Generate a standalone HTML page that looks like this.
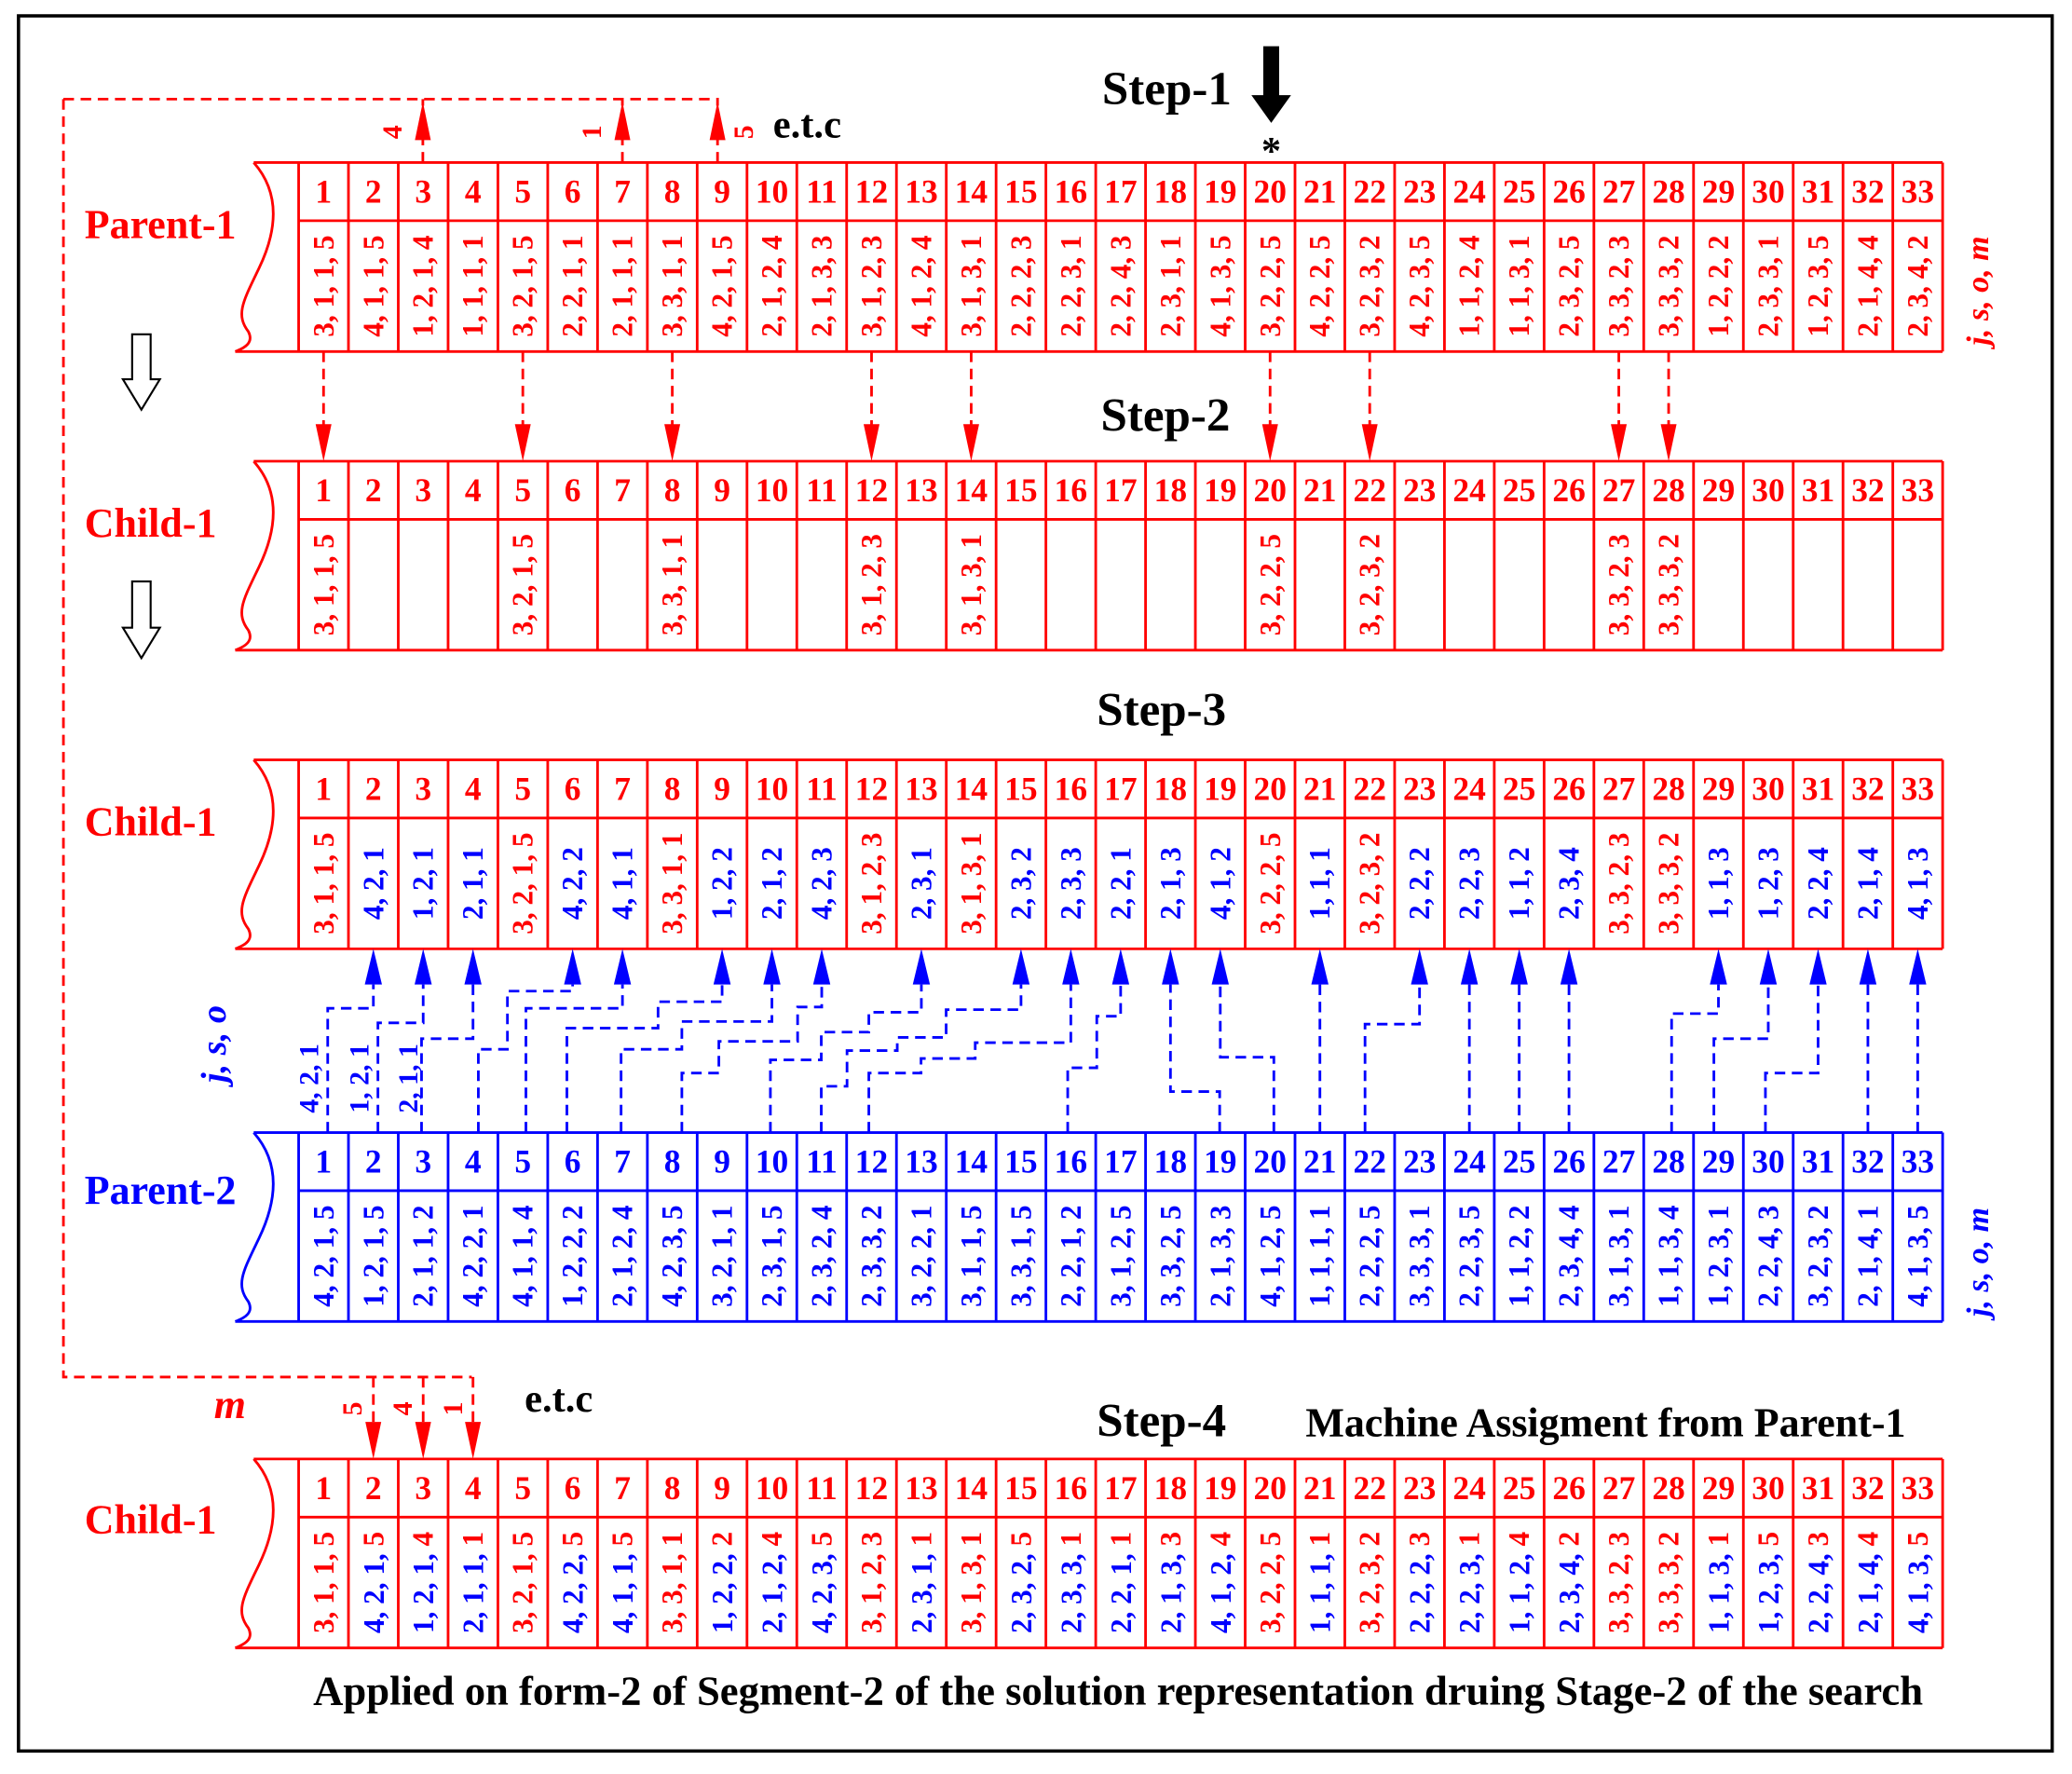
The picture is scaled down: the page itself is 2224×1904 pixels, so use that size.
<!DOCTYPE html>
<html><head><meta charset="utf-8"><style>
html,body{margin:0;padding:0;background:#fff}
svg{display:block}
text{font-family:"Liberation Serif",serif;font-weight:bold}
.n{font-size:25px;dominant-baseline:central;text-anchor:middle}
.d{font-size:22px;dominant-baseline:central;text-anchor:middle}
.R{fill:#f00}.B{fill:#00f}
.lab{font-size:31px}
.st{font-size:36px;fill:#000}
.dr{stroke:#f00;stroke-width:2;fill:none;stroke-dasharray:8,5}
.db{stroke:#00f;stroke-width:2;fill:none;stroke-dasharray:8,5}
</style></head><body>
<svg width="2224" height="1904" viewBox="0 0 1568 1342.4" preserveAspectRatio="none" xmlns="http://www.w3.org/2000/svg">
<defs>
<path id="grid" fill="none" stroke-width="2" d="M192,0H1470.1M226,44H1470.1M178,143H1470.1M192,0C214,25 208,55 196,80C184,105 178,115 188,128C192,136 186,140 178,143M226,0V143M263.7,0V143M301.4,0V143M339.1,0V143M376.8,0V143M414.5,0V143M452.2,0V143M489.9,0V143M527.6,0V143M565.3,0V143M603,0V143M640.7,0V143M678.4,0V143M716.1,0V143M753.8,0V143M791.5,0V143M829.2,0V143M866.9,0V143M904.6,0V143M942.3,0V143M980,0V143M1017.7,0V143M1055.4,0V143M1093.1,0V143M1130.8,0V143M1168.5,0V143M1206.2,0V143M1243.9,0V143M1281.6,0V143M1319.3,0V143M1357,0V143M1394.7,0V143M1432.4,0V143M1470.1,0V143"/>
</defs>
<rect x="14" y="12" width="1539" height="1313" fill="none" stroke="#000" stroke-width="2.5"/>

<!-- Titles -->
<text class="st" x="834" y="79">Step-1</text>
<path d="M956,35H968V72H977L962,93L947,72H956Z" fill="#000"/>
<text x="962" y="124" style="font-size:30px;text-anchor:middle">*</text>
<text class="st" x="833" y="326">Step-2</text>
<text class="st" x="830" y="549">Step-3</text>
<text class="st" x="830" y="1087">Step-4</text>
<text x="988" y="1087" style="font-size:31px">Machine Assigment from Parent-1</text>
<text x="237" y="1290" style="font-size:31.5px">Applied on form-2 of Segment-2 of the solution representation druing Stage-2 of the search</text>
<text x="585" y="104" style="font-size:30px">e.t.c</text>
<text x="397" y="1068" style="font-size:30px">e.t.c</text>

<!-- left labels -->
<text class="lab R" x="64" y="180">Parent-1</text>
<text class="lab R" x="64" y="406">Child-1</text>
<text class="lab R" x="64" y="632">Child-1</text>
<text class="lab B" x="64" y="911">Parent-2</text>
<text class="lab R" x="64" y="1160">Child-1</text>
<text x="174" y="1073" class="R" style="font-size:31px;font-style:italic;text-anchor:middle">m</text>

<!-- right labels -->
<text class="R" transform="translate(1497,220) rotate(-90)" style="font-size:24px;font-style:italic;text-anchor:middle;dominant-baseline:central">j, s, o, m</text>
<text class="B" transform="translate(1497,955) rotate(-90)" style="font-size:24px;font-style:italic;text-anchor:middle;dominant-baseline:central">j, s, o, m</text>
<text class="B" transform="translate(162,790) rotate(-90)" style="font-size:27px;font-style:italic;text-anchor:middle;dominant-baseline:central">j, s, o</text>

<!-- hollow arrows -->
<path d="M100,253H114V287H121L107,310L93,287H100Z" fill="#fff" stroke="#000" stroke-width="1.5"/>
<path d="M100,440H114V475H121L107,498L93,475H100Z" fill="#fff" stroke="#000" stroke-width="1.5"/>

<!-- tables -->
<use href="#grid" transform="translate(0,123)" stroke="#f00"/>
<use href="#grid" transform="translate(0,349)" stroke="#f00"/>
<use href="#grid" transform="translate(0,575)" stroke="#f00"/>
<use href="#grid" transform="translate(0,857)" stroke="#00f"/>
<use href="#grid" transform="translate(0,1104)" stroke="#f00"/>

<!-- number rows -->
<text class="n R" y="145"><tspan x="244.85">1</tspan><tspan x="282.55">2</tspan><tspan x="320.25">3</tspan><tspan x="357.95">4</tspan><tspan x="395.65">5</tspan><tspan x="433.35">6</tspan><tspan x="471.05">7</tspan><tspan x="508.75">8</tspan><tspan x="546.45">9</tspan><tspan x="584.15">10</tspan><tspan x="621.85">11</tspan><tspan x="659.55">12</tspan><tspan x="697.25">13</tspan><tspan x="734.95">14</tspan><tspan x="772.65">15</tspan><tspan x="810.35">16</tspan><tspan x="848.05">17</tspan><tspan x="885.75">18</tspan><tspan x="923.45">19</tspan><tspan x="961.15">20</tspan><tspan x="998.85">21</tspan><tspan x="1036.55">22</tspan><tspan x="1074.25">23</tspan><tspan x="1111.95">24</tspan><tspan x="1149.65">25</tspan><tspan x="1187.35">26</tspan><tspan x="1225.05">27</tspan><tspan x="1262.75">28</tspan><tspan x="1300.45">29</tspan><tspan x="1338.15">30</tspan><tspan x="1375.85">31</tspan><tspan x="1413.55">32</tspan><tspan x="1451.25">33</tspan></text>
<text class="n R" y="371"><tspan x="244.85">1</tspan><tspan x="282.55">2</tspan><tspan x="320.25">3</tspan><tspan x="357.95">4</tspan><tspan x="395.65">5</tspan><tspan x="433.35">6</tspan><tspan x="471.05">7</tspan><tspan x="508.75">8</tspan><tspan x="546.45">9</tspan><tspan x="584.15">10</tspan><tspan x="621.85">11</tspan><tspan x="659.55">12</tspan><tspan x="697.25">13</tspan><tspan x="734.95">14</tspan><tspan x="772.65">15</tspan><tspan x="810.35">16</tspan><tspan x="848.05">17</tspan><tspan x="885.75">18</tspan><tspan x="923.45">19</tspan><tspan x="961.15">20</tspan><tspan x="998.85">21</tspan><tspan x="1036.55">22</tspan><tspan x="1074.25">23</tspan><tspan x="1111.95">24</tspan><tspan x="1149.65">25</tspan><tspan x="1187.35">26</tspan><tspan x="1225.05">27</tspan><tspan x="1262.75">28</tspan><tspan x="1300.45">29</tspan><tspan x="1338.15">30</tspan><tspan x="1375.85">31</tspan><tspan x="1413.55">32</tspan><tspan x="1451.25">33</tspan></text>
<text class="n R" y="597"><tspan x="244.85">1</tspan><tspan x="282.55">2</tspan><tspan x="320.25">3</tspan><tspan x="357.95">4</tspan><tspan x="395.65">5</tspan><tspan x="433.35">6</tspan><tspan x="471.05">7</tspan><tspan x="508.75">8</tspan><tspan x="546.45">9</tspan><tspan x="584.15">10</tspan><tspan x="621.85">11</tspan><tspan x="659.55">12</tspan><tspan x="697.25">13</tspan><tspan x="734.95">14</tspan><tspan x="772.65">15</tspan><tspan x="810.35">16</tspan><tspan x="848.05">17</tspan><tspan x="885.75">18</tspan><tspan x="923.45">19</tspan><tspan x="961.15">20</tspan><tspan x="998.85">21</tspan><tspan x="1036.55">22</tspan><tspan x="1074.25">23</tspan><tspan x="1111.95">24</tspan><tspan x="1149.65">25</tspan><tspan x="1187.35">26</tspan><tspan x="1225.05">27</tspan><tspan x="1262.75">28</tspan><tspan x="1300.45">29</tspan><tspan x="1338.15">30</tspan><tspan x="1375.85">31</tspan><tspan x="1413.55">32</tspan><tspan x="1451.25">33</tspan></text>
<text class="n B" y="879"><tspan x="244.85">1</tspan><tspan x="282.55">2</tspan><tspan x="320.25">3</tspan><tspan x="357.95">4</tspan><tspan x="395.65">5</tspan><tspan x="433.35">6</tspan><tspan x="471.05">7</tspan><tspan x="508.75">8</tspan><tspan x="546.45">9</tspan><tspan x="584.15">10</tspan><tspan x="621.85">11</tspan><tspan x="659.55">12</tspan><tspan x="697.25">13</tspan><tspan x="734.95">14</tspan><tspan x="772.65">15</tspan><tspan x="810.35">16</tspan><tspan x="848.05">17</tspan><tspan x="885.75">18</tspan><tspan x="923.45">19</tspan><tspan x="961.15">20</tspan><tspan x="998.85">21</tspan><tspan x="1036.55">22</tspan><tspan x="1074.25">23</tspan><tspan x="1111.95">24</tspan><tspan x="1149.65">25</tspan><tspan x="1187.35">26</tspan><tspan x="1225.05">27</tspan><tspan x="1262.75">28</tspan><tspan x="1300.45">29</tspan><tspan x="1338.15">30</tspan><tspan x="1375.85">31</tspan><tspan x="1413.55">32</tspan><tspan x="1451.25">33</tspan></text>
<text class="n R" y="1126"><tspan x="244.85">1</tspan><tspan x="282.55">2</tspan><tspan x="320.25">3</tspan><tspan x="357.95">4</tspan><tspan x="395.65">5</tspan><tspan x="433.35">6</tspan><tspan x="471.05">7</tspan><tspan x="508.75">8</tspan><tspan x="546.45">9</tspan><tspan x="584.15">10</tspan><tspan x="621.85">11</tspan><tspan x="659.55">12</tspan><tspan x="697.25">13</tspan><tspan x="734.95">14</tspan><tspan x="772.65">15</tspan><tspan x="810.35">16</tspan><tspan x="848.05">17</tspan><tspan x="885.75">18</tspan><tspan x="923.45">19</tspan><tspan x="961.15">20</tspan><tspan x="998.85">21</tspan><tspan x="1036.55">22</tspan><tspan x="1074.25">23</tspan><tspan x="1111.95">24</tspan><tspan x="1149.65">25</tspan><tspan x="1187.35">26</tspan><tspan x="1225.05">27</tspan><tspan x="1262.75">28</tspan><tspan x="1300.45">29</tspan><tspan x="1338.15">30</tspan><tspan x="1375.85">31</tspan><tspan x="1413.55">32</tspan><tspan x="1451.25">33</tspan></text>

<!-- Parent-1 data -->
<g class="d R">
<text transform="translate(244.85,216.5) rotate(-90)">3, 1, 1, 5</text>
<text transform="translate(282.55,216.5) rotate(-90)">4, 1, 1, 5</text>
<text transform="translate(320.25,216.5) rotate(-90)">1, 2, 1, 4</text>
<text transform="translate(357.95,216.5) rotate(-90)">1, 1, 1, 1</text>
<text transform="translate(395.65,216.5) rotate(-90)">3, 2, 1, 5</text>
<text transform="translate(433.35,216.5) rotate(-90)">2, 2, 1, 1</text>
<text transform="translate(471.05,216.5) rotate(-90)">2, 1, 1, 1</text>
<text transform="translate(508.75,216.5) rotate(-90)">3, 3, 1, 1</text>
<text transform="translate(546.45,216.5) rotate(-90)">4, 2, 1, 5</text>
<text transform="translate(584.15,216.5) rotate(-90)">2, 1, 2, 4</text>
<text transform="translate(621.85,216.5) rotate(-90)">2, 1, 3, 3</text>
<text transform="translate(659.55,216.5) rotate(-90)">3, 1, 2, 3</text>
<text transform="translate(697.25,216.5) rotate(-90)">4, 1, 2, 4</text>
<text transform="translate(734.95,216.5) rotate(-90)">3, 1, 3, 1</text>
<text transform="translate(772.65,216.5) rotate(-90)">2, 2, 2, 3</text>
<text transform="translate(810.35,216.5) rotate(-90)">2, 2, 3, 1</text>
<text transform="translate(848.05,216.5) rotate(-90)">2, 2, 4, 3</text>
<text transform="translate(885.75,216.5) rotate(-90)">2, 3, 1, 1</text>
<text transform="translate(923.45,216.5) rotate(-90)">4, 1, 3, 5</text>
<text transform="translate(961.15,216.5) rotate(-90)">3, 2, 2, 5</text>
<text transform="translate(998.85,216.5) rotate(-90)">4, 2, 2, 5</text>
<text transform="translate(1036.55,216.5) rotate(-90)">3, 2, 3, 2</text>
<text transform="translate(1074.25,216.5) rotate(-90)">4, 2, 3, 5</text>
<text transform="translate(1111.95,216.5) rotate(-90)">1, 1, 2, 4</text>
<text transform="translate(1149.65,216.5) rotate(-90)">1, 1, 3, 1</text>
<text transform="translate(1187.35,216.5) rotate(-90)">2, 3, 2, 5</text>
<text transform="translate(1225.05,216.5) rotate(-90)">3, 3, 2, 3</text>
<text transform="translate(1262.75,216.5) rotate(-90)">3, 3, 3, 2</text>
<text transform="translate(1300.45,216.5) rotate(-90)">1, 2, 2, 2</text>
<text transform="translate(1338.15,216.5) rotate(-90)">2, 3, 3, 1</text>
<text transform="translate(1375.85,216.5) rotate(-90)">1, 2, 3, 5</text>
<text transform="translate(1413.55,216.5) rotate(-90)">2, 1, 4, 4</text>
<text transform="translate(1451.25,216.5) rotate(-90)">2, 3, 4, 2</text>
</g>

<!-- Child step2 -->
<g class="d R">
<text transform="translate(244.85,442.5) rotate(-90)">3, 1, 1, 5</text>
<text transform="translate(395.65,442.5) rotate(-90)">3, 2, 1, 5</text>
<text transform="translate(508.75,442.5) rotate(-90)">3, 3, 1, 1</text>
<text transform="translate(659.55,442.5) rotate(-90)">3, 1, 2, 3</text>
<text transform="translate(734.95,442.5) rotate(-90)">3, 1, 3, 1</text>
<text transform="translate(961.15,442.5) rotate(-90)">3, 2, 2, 5</text>
<text transform="translate(1036.55,442.5) rotate(-90)">3, 2, 3, 2</text>
<text transform="translate(1225.05,442.5) rotate(-90)">3, 3, 2, 3</text>
<text transform="translate(1262.75,442.5) rotate(-90)">3, 3, 3, 2</text>
</g>

<!-- Child step3 -->
<g class="d R">
<text transform="translate(244.85,668.5) rotate(-90)">3, 1, 1, 5</text>
<text transform="translate(395.65,668.5) rotate(-90)">3, 2, 1, 5</text>
<text transform="translate(508.75,668.5) rotate(-90)">3, 3, 1, 1</text>
<text transform="translate(659.55,668.5) rotate(-90)">3, 1, 2, 3</text>
<text transform="translate(734.95,668.5) rotate(-90)">3, 1, 3, 1</text>
<text transform="translate(961.15,668.5) rotate(-90)">3, 2, 2, 5</text>
<text transform="translate(1036.55,668.5) rotate(-90)">3, 2, 3, 2</text>
<text transform="translate(1225.05,668.5) rotate(-90)">3, 3, 2, 3</text>
<text transform="translate(1262.75,668.5) rotate(-90)">3, 3, 3, 2</text>
</g>
<g class="d B">
<text transform="translate(282.55,668.5) rotate(-90)">4, 2, 1</text>
<text transform="translate(320.25,668.5) rotate(-90)">1, 2, 1</text>
<text transform="translate(357.95,668.5) rotate(-90)">2, 1, 1</text>
<text transform="translate(433.35,668.5) rotate(-90)">4, 2, 2</text>
<text transform="translate(471.05,668.5) rotate(-90)">4, 1, 1</text>
<text transform="translate(546.45,668.5) rotate(-90)">1, 2, 2</text>
<text transform="translate(584.15,668.5) rotate(-90)">2, 1, 2</text>
<text transform="translate(621.85,668.5) rotate(-90)">4, 2, 3</text>
<text transform="translate(697.25,668.5) rotate(-90)">2, 3, 1</text>
<text transform="translate(772.65,668.5) rotate(-90)">2, 3, 2</text>
<text transform="translate(810.35,668.5) rotate(-90)">2, 3, 3</text>
<text transform="translate(848.05,668.5) rotate(-90)">2, 2, 1</text>
<text transform="translate(885.75,668.5) rotate(-90)">2, 1, 3</text>
<text transform="translate(923.45,668.5) rotate(-90)">4, 1, 2</text>
<text transform="translate(998.85,668.5) rotate(-90)">1, 1, 1</text>
<text transform="translate(1074.25,668.5) rotate(-90)">2, 2, 2</text>
<text transform="translate(1111.95,668.5) rotate(-90)">2, 2, 3</text>
<text transform="translate(1149.65,668.5) rotate(-90)">1, 1, 2</text>
<text transform="translate(1187.35,668.5) rotate(-90)">2, 3, 4</text>
<text transform="translate(1300.45,668.5) rotate(-90)">1, 1, 3</text>
<text transform="translate(1338.15,668.5) rotate(-90)">1, 2, 3</text>
<text transform="translate(1375.85,668.5) rotate(-90)">2, 2, 4</text>
<text transform="translate(1413.55,668.5) rotate(-90)">2, 1, 4</text>
<text transform="translate(1451.25,668.5) rotate(-90)">4, 1, 3</text>
</g>

<!-- Parent-2 data -->
<g class="d B">
<text transform="translate(244.85,950.5) rotate(-90)">4, 2, 1, 5</text>
<text transform="translate(282.55,950.5) rotate(-90)">1, 2, 1, 5</text>
<text transform="translate(320.25,950.5) rotate(-90)">2, 1, 1, 2</text>
<text transform="translate(357.95,950.5) rotate(-90)">4, 2, 2, 1</text>
<text transform="translate(395.65,950.5) rotate(-90)">4, 1, 1, 4</text>
<text transform="translate(433.35,950.5) rotate(-90)">1, 2, 2, 2</text>
<text transform="translate(471.05,950.5) rotate(-90)">2, 1, 2, 4</text>
<text transform="translate(508.75,950.5) rotate(-90)">4, 2, 3, 5</text>
<text transform="translate(546.45,950.5) rotate(-90)">3, 2, 1, 1</text>
<text transform="translate(584.15,950.5) rotate(-90)">2, 3, 1, 5</text>
<text transform="translate(621.85,950.5) rotate(-90)">2, 3, 2, 4</text>
<text transform="translate(659.55,950.5) rotate(-90)">2, 3, 3, 2</text>
<text transform="translate(697.25,950.5) rotate(-90)">3, 2, 2, 1</text>
<text transform="translate(734.95,950.5) rotate(-90)">3, 1, 1, 5</text>
<text transform="translate(772.65,950.5) rotate(-90)">3, 3, 1, 5</text>
<text transform="translate(810.35,950.5) rotate(-90)">2, 2, 1, 2</text>
<text transform="translate(848.05,950.5) rotate(-90)">3, 1, 2, 5</text>
<text transform="translate(885.75,950.5) rotate(-90)">3, 3, 2, 5</text>
<text transform="translate(923.45,950.5) rotate(-90)">2, 1, 3, 3</text>
<text transform="translate(961.15,950.5) rotate(-90)">4, 1, 2, 5</text>
<text transform="translate(998.85,950.5) rotate(-90)">1, 1, 1, 1</text>
<text transform="translate(1036.55,950.5) rotate(-90)">2, 2, 2, 5</text>
<text transform="translate(1074.25,950.5) rotate(-90)">3, 3, 3, 1</text>
<text transform="translate(1111.95,950.5) rotate(-90)">2, 2, 3, 5</text>
<text transform="translate(1149.65,950.5) rotate(-90)">1, 1, 2, 2</text>
<text transform="translate(1187.35,950.5) rotate(-90)">2, 3, 4, 4</text>
<text transform="translate(1225.05,950.5) rotate(-90)">3, 1, 3, 1</text>
<text transform="translate(1262.75,950.5) rotate(-90)">1, 1, 3, 4</text>
<text transform="translate(1300.45,950.5) rotate(-90)">1, 2, 3, 1</text>
<text transform="translate(1338.15,950.5) rotate(-90)">2, 2, 4, 3</text>
<text transform="translate(1375.85,950.5) rotate(-90)">3, 2, 3, 2</text>
<text transform="translate(1413.55,950.5) rotate(-90)">2, 1, 4, 1</text>
<text transform="translate(1451.25,950.5) rotate(-90)">4, 1, 3, 5</text>
</g>

<!-- Step-4 child data -->
<g class="d R">
<text transform="translate(244.85,1197.5) rotate(-90)">3, 1, 1, 5</text>
<text transform="translate(282.55,1197.5) rotate(-90)"><tspan class="B">4, 2, 1, </tspan>5</text>
<text transform="translate(320.25,1197.5) rotate(-90)"><tspan class="B">1, 2, 1, </tspan>4</text>
<text transform="translate(357.95,1197.5) rotate(-90)"><tspan class="B">2, 1, 1, </tspan>1</text>
<text transform="translate(395.65,1197.5) rotate(-90)">3, 2, 1, 5</text>
<text transform="translate(433.35,1197.5) rotate(-90)"><tspan class="B">4, 2, 2, </tspan>5</text>
<text transform="translate(471.05,1197.5) rotate(-90)"><tspan class="B">4, 1, 1, </tspan>5</text>
<text transform="translate(508.75,1197.5) rotate(-90)">3, 3, 1, 1</text>
<text transform="translate(546.45,1197.5) rotate(-90)"><tspan class="B">1, 2, 2, </tspan>2</text>
<text transform="translate(584.15,1197.5) rotate(-90)"><tspan class="B">2, 1, 2, </tspan>4</text>
<text transform="translate(621.85,1197.5) rotate(-90)"><tspan class="B">4, 2, 3, </tspan>5</text>
<text transform="translate(659.55,1197.5) rotate(-90)">3, 1, 2, 3</text>
<text transform="translate(697.25,1197.5) rotate(-90)"><tspan class="B">2, 3, 1, </tspan>1</text>
<text transform="translate(734.95,1197.5) rotate(-90)">3, 1, 3, 1</text>
<text transform="translate(772.65,1197.5) rotate(-90)"><tspan class="B">2, 3, 2, </tspan>5</text>
<text transform="translate(810.35,1197.5) rotate(-90)"><tspan class="B">2, 3, 3, </tspan>1</text>
<text transform="translate(848.05,1197.5) rotate(-90)"><tspan class="B">2, 2, 1, </tspan>1</text>
<text transform="translate(885.75,1197.5) rotate(-90)"><tspan class="B">2, 1, 3, </tspan>3</text>
<text transform="translate(923.45,1197.5) rotate(-90)"><tspan class="B">4, 1, 2, </tspan>4</text>
<text transform="translate(961.15,1197.5) rotate(-90)">3, 2, 2, 5</text>
<text transform="translate(998.85,1197.5) rotate(-90)"><tspan class="B">1, 1, 1, </tspan>1</text>
<text transform="translate(1036.55,1197.5) rotate(-90)">3, 2, 3, 2</text>
<text transform="translate(1074.25,1197.5) rotate(-90)"><tspan class="B">2, 2, 2, </tspan>3</text>
<text transform="translate(1111.95,1197.5) rotate(-90)"><tspan class="B">2, 2, 3, </tspan>1</text>
<text transform="translate(1149.65,1197.5) rotate(-90)"><tspan class="B">1, 1, 2, </tspan>4</text>
<text transform="translate(1187.35,1197.5) rotate(-90)"><tspan class="B">2, 3, 4, </tspan>2</text>
<text transform="translate(1225.05,1197.5) rotate(-90)">3, 3, 2, 3</text>
<text transform="translate(1262.75,1197.5) rotate(-90)">3, 3, 3, 2</text>
<text transform="translate(1300.45,1197.5) rotate(-90)"><tspan class="B">1, 1, 3, </tspan>1</text>
<text transform="translate(1338.15,1197.5) rotate(-90)"><tspan class="B">1, 2, 3, </tspan>5</text>
<text transform="translate(1375.85,1197.5) rotate(-90)"><tspan class="B">2, 2, 4, </tspan>3</text>
<text transform="translate(1413.55,1197.5) rotate(-90)"><tspan class="B">2, 1, 4, </tspan>4</text>
<text transform="translate(1451.25,1197.5) rotate(-90)"><tspan class="B">4, 1, 3, </tspan>5</text>
</g>

<!-- Red loop connectors -->
<path class="dr" d="M320,123V100M471,123V100M543,123V100M320,80V75M471,80V75M48,75H543V80M48,75V1042H357M282.55,1042V1080M320.25,1042V1080M357.95,1042V1080"/>
<g fill="#f00">
<path d="M320,77L326,106H314Z"/><path d="M471,77L477,106H465Z"/><path d="M543,77L549,106H537Z"/>
<path d="M282.55,1104L276.5,1076H288.5Z"/><path d="M320.25,1104L314.2,1076H326.2Z"/><path d="M357.95,1104L351.9,1076H363.9Z"/>
</g>
<g class="R" style="font-size:21px;dominant-baseline:central;text-anchor:middle">
<text transform="translate(297,100) rotate(-90)">4</text>
<text transform="translate(448,100) rotate(-90)">1</text>
<text transform="translate(563,100) rotate(-90)">5</text>
<text transform="translate(267,1066) rotate(-90)">5</text>
<text transform="translate(305,1066) rotate(-90)">4</text>
<text transform="translate(343,1066) rotate(-90)">1</text>
</g>

<!-- Step-2 arrows -->
<path class="dr" d="M244.85,266V322M395.65,266V322M508.75,266V322M659.55,266V322M734.95,266V322M961.15,266V322M1036.55,266V322M1225.05,266V322M1262.75,266V322"/>
<g fill="#f00">
<path d="M244.85,349l-6,-28h12z"/><path d="M395.65,349l-6,-28h12z"/><path d="M508.75,349l-6,-28h12z"/><path d="M659.55,349l-6,-28h12z"/><path d="M734.95,349l-6,-28h12z"/><path d="M961.15,349l-6,-28h12z"/><path d="M1036.55,349l-6,-28h12z"/><path d="M1225.05,349l-6,-28h12z"/><path d="M1262.75,349l-6,-28h12z"/>
</g>

<!-- Blue connectors -->
<path class="db" d="M248,857V763H282.55V745
M286,857V774H320.25V745
M319,857V786H357.95V745
M362,857V794H384V750H433.35V745
M398,857V763H471.05V745
M429,857V778H498V758H546.45V745
M470,857V794H516V773H584.15V745
M516,857V812H544V788H603.6V762H621.85V745
M583,857V802H621.5V781H657.5V766H697.25V745
M621.5,857V822H641V795H679V785H716V764H772.65V745
M657.5,857V812H697V801H738V789H810.35V745
M808,857V808H830V769H848.05V745
M923,857V826H885.75V745
M964,857V800H923.45V745
M998.85,857V745
M1033,857V775H1074.25V745
M1111.95,857V745M1149.65,857V745M1187.35,857V745
M1265,857V767H1300.45V745
M1297,857V786H1338.15V745
M1336,857V812H1375.85V745
M1413.55,857V745M1451.25,857V745"/>
<g fill="#00f">
<path d="M282.55,718l-6.5,27h13z"/><path d="M320.25,718l-6.5,27h13z"/><path d="M357.95,718l-6.5,27h13z"/><path d="M433.35,718l-6.5,27h13z"/><path d="M471.05,718l-6.5,27h13z"/><path d="M546.45,718l-6.5,27h13z"/><path d="M584.15,718l-6.5,27h13z"/><path d="M621.85,718l-6.5,27h13z"/><path d="M697.25,718l-6.5,27h13z"/><path d="M772.65,718l-6.5,27h13z"/><path d="M810.35,718l-6.5,27h13z"/><path d="M848.05,718l-6.5,27h13z"/><path d="M885.75,718l-6.5,27h13z"/><path d="M923.45,718l-6.5,27h13z"/><path d="M998.85,718l-6.5,27h13z"/><path d="M1074.25,718l-6.5,27h13z"/><path d="M1111.95,718l-6.5,27h13z"/><path d="M1149.65,718l-6.5,27h13z"/><path d="M1187.35,718l-6.5,27h13z"/><path d="M1300.45,718l-6.5,27h13z"/><path d="M1338.15,718l-6.5,27h13z"/><path d="M1375.85,718l-6.5,27h13z"/><path d="M1413.55,718l-6.5,27h13z"/><path d="M1451.25,718l-6.5,27h13z"/>
</g>
<g class="B" style="font-size:21px;dominant-baseline:central;text-anchor:middle">
<text transform="translate(234,816) rotate(-90)">4, 2, 1</text>
<text transform="translate(272,816) rotate(-90)">1, 2, 1</text>
<text transform="translate(309,816) rotate(-90)">2, 1, 1</text>
</g>
</svg>
</body></html>
